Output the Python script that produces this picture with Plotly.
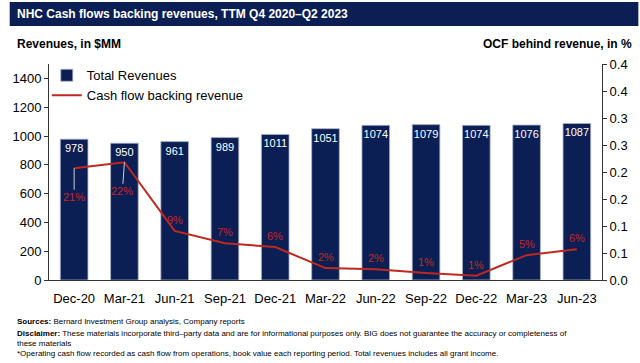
import plotly.graph_objects as go

categories = ["Dec-20", "Mar-21", "Jun-21", "Sep-21", "Dec-21", "Mar-22",
              "Jun-22", "Sep-22", "Dec-22", "Mar-23", "Jun-23"]
revenues = [978, 950, 961, 989, 1011, 1051, 1074, 1079, 1074, 1076, 1087]
ocf_share = [0.207, 0.218, 0.091, 0.068, 0.061, 0.022, 0.020, 0.013, 0.008, 0.046, 0.057]
left_ticks = [0, 200, 400, 600, 800, 1000, 1200, 1400]
right_tickvals = [0, 0.05, 0.10, 0.15, 0.20, 0.25, 0.30, 0.35, 0.40]
right_ticktext = ["0.0", "0.1", "0.1", "0.2", "0.2", "0.3", "0.3", "0.4", "0.4"]

NAVY = "#0b1f55"
RED = "#c0281e"
FONT = "Arial, Liberation Sans, sans-serif"

W, H = 640, 363
L, R, T, B = 40, 37, 64, 83
PW, PH = W - L - R, H - T - B


def px(xp):
    return (xp - L) / PW


def py(yp):
    return (H - B - yp) / PH


fig = go.Figure()
fig.add_trace(go.Bar(
    x=categories, y=revenues, name="Total Revenues",
    marker=dict(color=NAVY, line=dict(color="#a9b3cc", width=0.8)),
    text=[str(v) for v in revenues], textposition="inside",
    insidetextanchor="end", textangle=0, constraintext="none",
    textfont=dict(color="white", size=11, family=FONT),
))
fig.add_trace(go.Scatter(
    x=categories, y=ocf_share, name="Cash flow backing revenue",
    yaxis="y2", mode="lines", line=dict(color=RED, width=2),
))

annotations = []
for i, (c, v) in enumerate(zip(categories, ocf_share)):
    label = f"{round(v * 100):d}%"
    if i < 2:
        annotations.append(dict(
            x=c, y=v, xref="x", yref="y2", text=label, showarrow=True,
            arrowhead=0, arrowwidth=1, arrowcolor="#c9cddb",
            ax=-2 if i == 1 else 0, ay=29, standoff=0,
            font=dict(color=RED, size=11, family=FONT),
        ))
    else:
        annotations.append(dict(
            x=c, y=v, xref="x", yref="y2", text=label, showarrow=False,
            yshift=11, font=dict(color=RED, size=11, family=FONT),
        ))

annotations += [
    dict(x=px(5), y=py(14), xref="paper", yref="paper", xanchor="left", yanchor="middle",
         text="<b>NHC Cash flows backing revenues, TTM Q4 2020–Q2 2023</b>", showarrow=False,
         font=dict(color="white", size=12, family=FONT)),
    dict(x=px(5), y=py(44), xref="paper", yref="paper", xanchor="left", yanchor="middle",
         text="<b>Revenues, in $MM</b>", showarrow=False,
         font=dict(color="black", size=12, family=FONT)),
    dict(x=px(636), y=py(44), xref="paper", yref="paper", xanchor="right", yanchor="middle",
         text="<b>OCF behind revenue, in %</b>", showarrow=False,
         font=dict(color="black", size=12, family=FONT)),
    dict(x=px(5), y=py(321), xref="paper", yref="paper", xanchor="left", yanchor="middle",
         text="<b>Sources:</b> Bernard Investment Group analysis, Company reports", showarrow=False,
         font=dict(color="black", size=8, family=FONT)),
    dict(x=px(5), y=py(333), xref="paper", yref="paper", xanchor="left", yanchor="middle",
         text="<b>Disclaimer:</b> These materials incorporate third–party data and are for informational purposes only. BIG does not guarantee the accuracy or completeness of",
         showarrow=False, font=dict(color="black", size=8, family=FONT)),
    dict(x=px(5), y=py(343), xref="paper", yref="paper", xanchor="left", yanchor="middle",
         text="these materials", showarrow=False,
         font=dict(color="black", size=8, family=FONT)),
    dict(x=px(5), y=py(353), xref="paper", yref="paper", xanchor="left", yanchor="middle",
         text="*Operating cash flow recorded as cash flow from operations, book value each reporting period. Total revenues includes all grant income.",
         showarrow=False, font=dict(color="black", size=8, family=FONT)),
]

shapes = [
    dict(type="rect", xref="paper", yref="paper", x0=px(0), x1=px(640), y0=py(26), y1=py(2),
         fillcolor=NAVY, line=dict(width=0), layer="below"),
]

fig.update_layout(
    width=W, height=H,
    margin=dict(l=L, r=R, t=T, b=B, pad=0),
    paper_bgcolor="white", plot_bgcolor="white",
    font=dict(family=FONT, color="black", size=12),
    bargap=0.45,
    showlegend=True,
    legend=dict(x=-0.004, y=1.017, xanchor="left", yanchor="top",
                bgcolor="rgba(0,0,0,0)", font=dict(size=13, family=FONT),
                itemwidth=30),
    xaxis=dict(showgrid=False, showline=True, linecolor="#333333", linewidth=1,
               ticks="", tickfont=dict(size=13, family=FONT), ticklabelstandoff=6),
    yaxis=dict(range=[0, 1500], tickvals=left_ticks, showgrid=False, showline=True,
               linecolor="#333333", linewidth=1, ticks="outside", ticklen=4,
               tickcolor="#333333", tickfont=dict(size=13, family=FONT), zeroline=False),
    yaxis2=dict(range=[0, 0.4], overlaying="y", side="right", tickvals=right_tickvals,
                ticktext=right_ticktext, showgrid=False, showline=True,
                linecolor="#333333", linewidth=1, ticks="outside", ticklen=4,
                tickcolor="#333333", tickfont=dict(size=13, family=FONT), zeroline=False),
    annotations=annotations,
    shapes=shapes,
)

fig.write_html("out.html")
